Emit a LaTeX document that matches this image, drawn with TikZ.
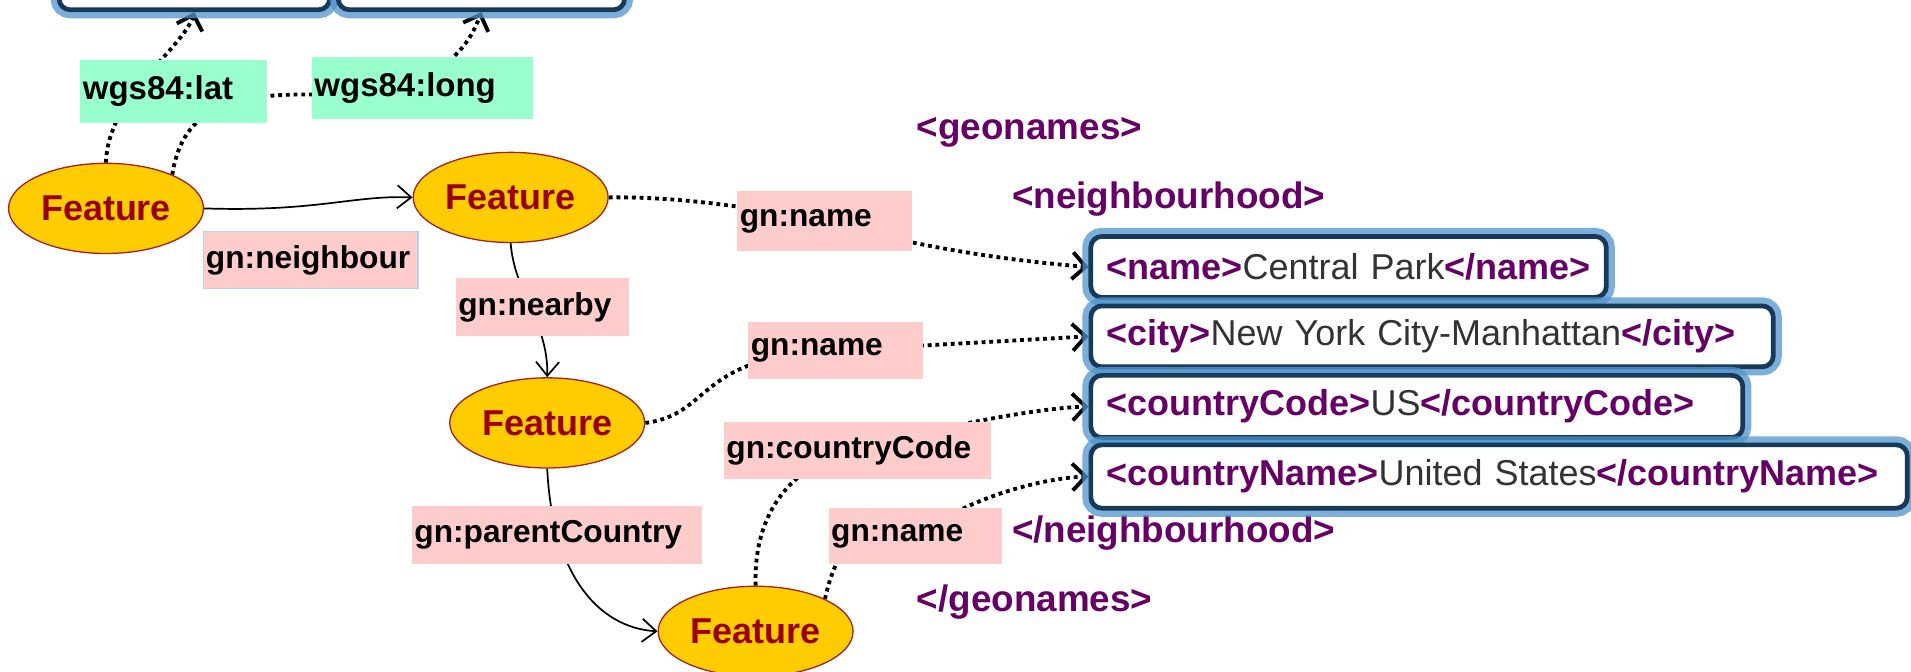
\documentclass[tikz,border=0pt]{standalone}
\usepackage{fontspec}
\setmainfont{Liberation Sans}
\usetikzlibrary{shapes.geometric,arrows.meta,backgrounds}
\definecolor{featfill}{HTML}{FFCC00}
\definecolor{featdraw}{HTML}{A0202A}
\definecolor{feattext}{HTML}{990000}
\definecolor{pinkl}{HTML}{FFCCCC}
\definecolor{mint}{HTML}{99FFCC}
\definecolor{tagc}{HTML}{660066}
\definecolor{valc}{HTML}{333333}
\definecolor{boxdark}{HTML}{173A58}
\definecolor{glow}{HTML}{4F93CB}
\definecolor{nbborder}{HTML}{B4D4F0}
\newcommand\tg[1]{{\bfseries\color{tagc}#1}}
\tikzset{
 feat/.style={ellipse, fill=featfill, draw=featdraw, line width=0.6pt, minimum width=3.2cm, minimum height=1.48cm, inner sep=0pt, text=feattext, font=\fontsize{16.8}{18}\selectfont\bfseries},
 lab/.style={rectangle, fill=pinkl, inner xsep=0.04cm, inner ysep=0pt, align=left, font=\fontsize{14.8}{16}\selectfont\bfseries, text=black},
 wlab/.style={lab, fill=mint, font=\fontsize{15.4}{17}\selectfont\bfseries},
 xbox/.style={rectangle, rounded corners=0.18cm, draw=boxdark, line width=2.2pt, fill=white, inner xsep=0.26cm, inner ysep=0pt, align=left, font=\fontsize{16.8}{18}\selectfont, text=valc, preaction={draw=glow, line width=8pt, draw opacity=0.75}},
 hd/.style={anchor=west, inner sep=0pt, text=tagc, font=\fontsize{17.2}{20}\selectfont\bfseries},
 dotarr/.style={line width=1.8pt, dash pattern=on 1.8pt off 1.8pt, -{Straight Barb[length=2.2mm,width=4.4mm]}},
 solarr/.style={line width=0.8pt, -{Straight Barb[length=2.3mm,width=3.8mm]}},
}
\begin{document}
\begin{tikzpicture}[x=0.02cm,y=-0.02cm]
\useasboundingbox (0,0) rectangle (1568,551);
\clip (0,0) rectangle (1568,551);
% top boxes (cut off)
\node[xbox, minimum width=4.44cm, minimum height=1.12cm] (tb1) at (159.5,-20) {};
\node[xbox, minimum width=4.7cm, minimum height=1.12cm] (tb2) at (395,-20) {};
% features
\node[feat] (f1) at (87,171) {Feature};
\node[feat] (f2) at (419,162) {Feature};
\node[feat] (f3) at (449,347) {Feature};
\node[feat] (f4) at (620,518) {Feature};
% labels
\node[wlab, text width=2.98cm, minimum height=1.04cm] (lat) at (142.5,75) {\mbox{wgs84:lat}};
\node[wlab, text width=3.54cm, minimum height=1.02cm] (long) at (346.5,72.5) {\mbox{wgs84:long}};
\node[lab, draw=nbborder, line width=0.6pt, text width=3.44cm, minimum height=0.94cm] (nb) at (255,213.5) {\mbox{gn:neighbour}};
\node[lab, text width=2.78cm, minimum height=0.98cm] (name1) at (676.5,181.5) {\mbox{gn:name}};
\node[lab, text width=2.76cm, minimum height=0.96cm] (near) at (445,252) {\mbox{gn:nearby}};
\node[lab, text width=2.78cm, minimum height=0.94cm] (name2) at (685.5,287.5) {\mbox{gn:name}};
\node[lab, text width=4.30cm, minimum height=0.94cm] (cc) at (703.5,369.5) {\mbox{gn:countryCode}};
\node[lab, text width=4.68cm, minimum height=0.96cm] (pc) at (457,439) {\mbox{gn:parentCountry}};
\node[lab, text width=2.76cm, minimum height=0.92cm] (name3) at (751,440) {\mbox{gn:name}};
% xml
\node[hd] (h1) at (752,109) {<geonames>};
\node[hd] (h2) at (830,163) {<neighbourhood>};
\node[hd] (h3) at (830,437) {</neighbourhood>};
\node[hd] (h4) at (752,494) {</geonames>};
\node[xbox, text width=7.94cm, minimum height=1.0cm] (box1) at (1106.5,219) {\mbox{\tg{<name>}Central Park\tg{</name>}}};
\node[xbox, text width=10.68cm, minimum height=1.0cm] (box2) at (1175,276) {\mbox{\tg{<city>}New York City-Manhattan\tg{</city>}}};
\node[xbox, text width=10.18cm, minimum height=1.02cm] (box3) at (1162.5,333.5) {\mbox{\tg{<countryCode>}US\tg{</countryCode>}}};
\node[xbox, text width=12.88cm, minimum height=1.04cm] (box4) at (1230,391) {\mbox{\tg{<countryName>}United States\tg{</countryName>}}};
% connectors
\begin{pgfonlayer}{background}
\draw[dotarr] (f1.north) .. controls (88,80) and (150,40) .. (tb1.south);
\draw[dotarr] (f1.27) .. controls (150,88) and (190,77) .. ([yshift=-0.1cm]long.west) .. controls (350,76) and (380,50) .. (tb2.south);
\draw[solarr] (f1.east) .. controls (260,174) and (290,160) .. (f2.west);
\draw[dotarr] (f2.east) .. controls (570,161) and (640,175) .. (name1.center) .. controls (760,205) and (840,215) .. (box1.west);
\draw[solarr] (f2.south) .. controls (422,240) and (450,265) .. (f3.north);
\draw[dotarr] (f3.east) .. controls (585,340) and (570,292) .. (name2.center) -- (box2.west);
\draw[solarr] (f3.south) .. controls (453,470) and (490,515) .. (f4.west);
\draw[dotarr] (f4.north) .. controls (618,420) and (650,380) .. (cc.center) .. controls (770,350) and (850,335) .. (box3.west);
\draw[dotarr] (f4.25) .. controls (685,455) and (700,425) .. (name3.center) .. controls (800,405) and (860,392) .. (box4.west);
\end{pgfonlayer}
\end{tikzpicture}
\end{document}
